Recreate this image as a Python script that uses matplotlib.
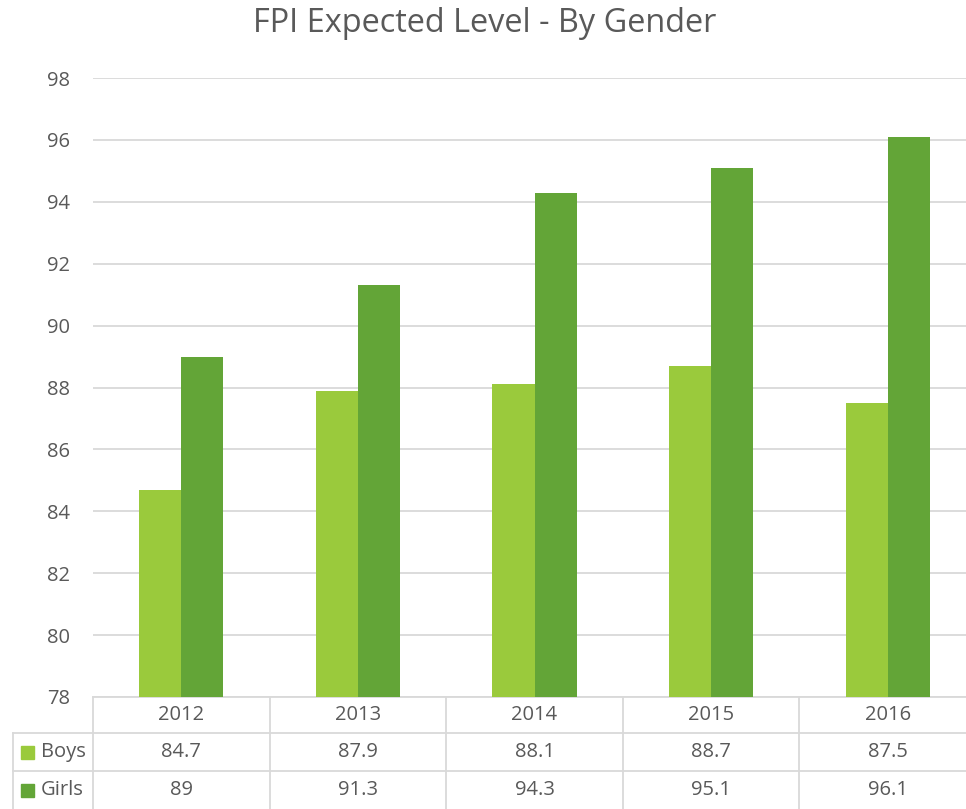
import matplotlib.pyplot as plt
from matplotlib.patches import Rectangle

plt.rcParams['font.family'] = ['Open Sans', 'DejaVu Sans']

years = ['2012', '2013', '2014', '2015', '2016']
series_names = ['Boys', 'Girls']
boys = [84.7, 87.9, 88.1, 88.7, 87.5]
girls = [89, 91.3, 94.3, 95.1, 96.1]
boys_labels = ['84.7', '87.9', '88.1', '88.7', '87.5']
girls_labels = ['89', '91.3', '94.3', '95.1', '96.1']
y_ticks = [78, 80, 82, 84, 86, 88, 90, 92, 94, 96, 98]

colors = ['#9ACA3C', '#63A537']
text_color = '#595959'
line_color = '#D9D9D9'

W, H = 966, 809
fig = plt.figure(figsize=(W / 100, H / 100), dpi=100)

# plot area in pixels: left 93, right 976 (cropped), top 78, bottom 697
left, right, top, bottom = 93, 976, 78, 697
ax = fig.add_axes([left / W, (H - bottom) / H, (right - left) / W, (bottom - top) / H])

x = list(range(len(years)))
bw = 0.238
ax.bar([i - bw / 2 for i in x], [b - 78 for b in boys], bw, bottom=78, color=colors[0], zorder=3)
ax.bar([i + bw / 2 for i in x], [g - 78 for g in girls], bw, bottom=78, color=colors[1], zorder=3)

ax.set_xlim(-0.5, len(years) - 0.5)
ax.set_ylim(78, 98)
ax.set_yticks(y_ticks)
ax.set_xticks([])
ax.tick_params(axis='y', length=0, pad=16.5, labelsize=14.5, labelcolor=text_color)
ax.yaxis.grid(True, color=line_color, linewidth=1.3, zorder=0)
for s in ['left', 'right', 'top']:
    ax.spines[s].set_visible(False)
ax.spines['bottom'].set_color(line_color)
ax.spines['bottom'].set_linewidth(1.3)

fig.text(485 / W, 1 - 24 / H, 'FPI Expected Level - By Gender', ha='center', va='center',
         fontsize=23.4, color=text_color)

# data table below the plot, drawn in pixel coords on a figure-wide overlay
ov = fig.add_axes([0, 0, 1, 1], facecolor='none')
ov.set_xlim(0, W)
ov.set_ylim(H, 0)
ov.axis('off')

col_w = (right - left) / len(years)
row_y = [697, 733, 771, 809]
legend_left = 13

ov.plot([legend_left, W], [row_y[1], row_y[1]], color=line_color, lw=1.3)
ov.plot([legend_left, W], [row_y[2], row_y[2]], color=line_color, lw=1.3)
ov.plot([legend_left, legend_left], [row_y[1], H], color=line_color, lw=1.3)
for j in range(len(years) + 1):
    xc = left + j * col_w
    ov.plot([xc, xc], [row_y[0], H], color=line_color, lw=1.3)

rows = [years, boys_labels, girls_labels]
for r, vals in enumerate(rows):
    yc = (row_y[r] + row_y[r + 1]) / 2
    for j, v in enumerate(vals):
        ov.text(left + (j + 0.5) * col_w, yc, v, ha='center', va='center',
                fontsize=14.5, color=text_color)

for k, name in enumerate(series_names):
    yc = (row_y[k + 1] + row_y[k + 2]) / 2
    ov.add_patch(Rectangle((21, yc - 6.5), 13, 13, color=colors[k]))
    ov.text(41, yc, name, ha='left', va='center', fontsize=14.5, color=text_color)

fig.savefig('out.png', dpi=100)
